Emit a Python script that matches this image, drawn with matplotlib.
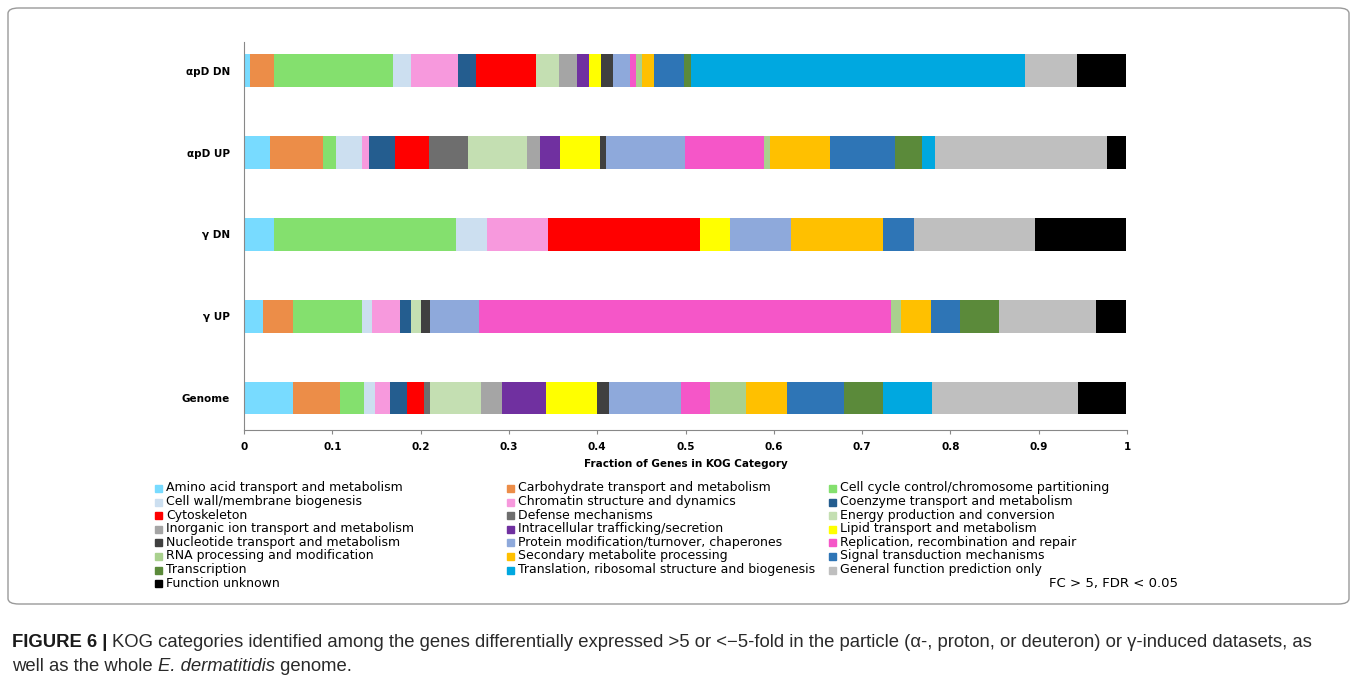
import numpy as np
import matplotlib
matplotlib.use("Agg")
import matplotlib.pyplot as plt
from matplotlib.patches import Rectangle, FancyBboxPatch

# KOG categories, in stacking order
categories = [
    "Amino acid transport and metabolism",
    "Carbohydrate transport and metabolism",
    "Cell cycle control/chromosome partitioning",
    "Cell wall/membrane biogenesis",
    "Chromatin structure and dynamics",
    "Coenzyme transport and metabolism",
    "Cytoskeleton",
    "Defense mechanisms",
    "Energy production and conversion",
    "Inorganic ion transport and metabolism",
    "Intracellular trafficking/secretion",
    "Lipid transport and metabolism",
    "Nucleotide transport and metabolism",
    "Protein modification/turnover, chaperones",
    "Replication, recombination and repair",
    "RNA processing and modification",
    "Secondary metabolite processing",
    "Signal transduction mechanisms",
    "Transcription",
    "Translation, ribosomal structure and biogenesis",
    "General function prediction only",
    "Function unknown",
]

colors = [
    "#78DBFF", "#EC8D48", "#84E06E", "#CCDFF0", "#F799DD", "#245D8F",
    "#FF0000", "#6E6E6E", "#C4DFB2", "#A5A5A5", "#7030A0", "#FFFF00",
    "#404040", "#8EA9DB", "#F556C8", "#A9D18E", "#FFC000", "#2E75B6",
    "#5B8A3A", "#00A8E0", "#BFBFBF", "#000000",
]

datasets = ["Genome", "\u03b3 UP", "\u03b3 DN", "\u03b1pD UP", "\u03b1pD DN"]

# fraction of genes per category, one list per dataset (same order as categories)
genome = [0.0555, 0.0529, 0.0275, 0.0128, 0.0166, 0.0189, 0.0193, 0.0075,
          0.0577, 0.0234, 0.0502, 0.0574, 0.0136, 0.0820, 0.0328, 0.0404,
          0.0464, 0.0642, 0.0445, 0.0555, 0.1653, 0.0548]
gamma_up = [0.0220, 0.0336, 0.0778, 0.0110, 0.0328, 0.0117, 0.0, 0.0,
            0.0110, 0.0, 0.0, 0.0, 0.0110, 0.0555, 0.4666, 0.0113,
            0.0332, 0.0332, 0.0445, 0.0, 0.1100, 0.0340]
gamma_dn = [0.0340, 0.0, 0.2065, 0.0347, 0.0687, 0.0, 0.1725, 0.0,
            0.0, 0.0, 0.0, 0.0344, 0.0, 0.0690, 0.0, 0.0,
            0.1038, 0.0348, 0.0, 0.0, 0.1378, 0.1030]
apd_up = [0.0300, 0.0596, 0.0144, 0.0300, 0.0075, 0.0300, 0.0377, 0.0445,
          0.0672, 0.0147, 0.0226, 0.0445, 0.0075, 0.0895, 0.0890, 0.0072,
          0.0672, 0.0747, 0.0300, 0.0150, 0.1940, 0.0220]
apd_dn = [0.0068, 0.0268, 0.1350, 0.0200, 0.0540, 0.0200, 0.0680, 0.0,
          0.0260, 0.0210, 0.0130, 0.0140, 0.0130, 0.0200, 0.0068, 0.0063,
          0.0136, 0.0340, 0.0075, 0.3790, 0.0590, 0.0550]

values = np.array([genome, gamma_up, gamma_dn, apd_up, apd_dn])

W, H = 1357, 683
fig = plt.figure(figsize=(W / 100, H / 100), dpi=100)
plt.rcParams['font.family'] = ['DejaVu Sans']

ax = fig.add_axes([244 / W, 1 - 430 / H, (1127 - 244) / W, (430 - 42) / H])
ypos = np.arange(len(datasets))
left = np.zeros(len(datasets))
for j, cat in enumerate(categories):
    ax.barh(ypos, values[:, j], left=left, height=0.40, color=colors[j],
            label=cat, linewidth=0)
    left += values[:, j]

ax.set_xlim(0, 1)
ax.set_ylim(-0.39, 4.35)
ax.set_xticks(np.arange(0, 1.01, 0.1))
ax.set_xticklabels(["0", "0.1", "0.2", "0.3", "0.4", "0.5", "0.6", "0.7",
                    "0.8", "0.9", "1"], fontsize=7.5, fontweight="bold")
ax.set_yticks(ypos)
ax.set_yticklabels(datasets, fontsize=7.5, fontweight="bold")
ax.tick_params(axis="y", length=0, pad=10)
ax.tick_params(axis="x", length=3, color="#888888", pad=6)
for s in ["top", "right"]:
    ax.spines[s].set_visible(False)
ax.spines["left"].set_color("#888888")
ax.spines["bottom"].set_color("#888888")
ax.set_xlabel("Fraction of Genes in KOG Category", fontsize=7.5,
              fontweight="bold", labelpad=5)

# legend laid out row by row in three columns
col_x = [155, 507, 829]
for i, cat in enumerate(categories):
    row, col = divmod(i, 3)
    y = 488 + row * 13.6
    fig.patches.append(Rectangle((col_x[col] / W, 1 - (y + 4) / H), 7 / W, 7 / H,
                                 transform=fig.transFigure, color=colors[i]))
    fig.text((col_x[col] + 11) / W, 1 - y / H, cat, fontsize=9,
             va="center", ha="left")

fig.text(1178 / W, 1 - 584 / H, "FC > 5, FDR < 0.05", fontsize=9.5,
         ha="right", va="center")

# frame around the chart panel
fig.patches.append(FancyBboxPatch((8 / W, 1 - 604 / H), (1349 - 8) / W,
                                  (604 - 8) / H, boxstyle="round,pad=0,rounding_size=0.008",
                                  transform=fig.transFigure, fill=False,
                                  edgecolor="#9a9a9a", linewidth=1))

# caption with mixed weights
renderer = fig.canvas.get_renderer()
cap_font = dict(fontsize=13.3, family="Liberation Sans", va="baseline")


def run_text(x, y, s, **kw):
    t = fig.text(x / W, 1 - y / H, s, **cap_font, **kw)
    bb = t.get_window_extent(renderer)
    return x + bb.width


x = run_text(12, 647, "FIGURE 6 | ", fontweight="bold", color="#1a1a1a")
run_text(x, 647, "KOG categories identified among the genes differentially "
         "expressed >5 or <\u22125-fold in the particle (\u03b1-, proton, or "
         "deuteron) or \u03b3-induced datasets, as", color="#2a2a2a")
x = run_text(12, 671, "well as the whole ", color="#2a2a2a")
x = run_text(x, 671, "E. dermatitidis", style="italic", color="#2a2a2a")
run_text(x, 671, " genome.", color="#2a2a2a")

fig.savefig("out.png", dpi=100)
